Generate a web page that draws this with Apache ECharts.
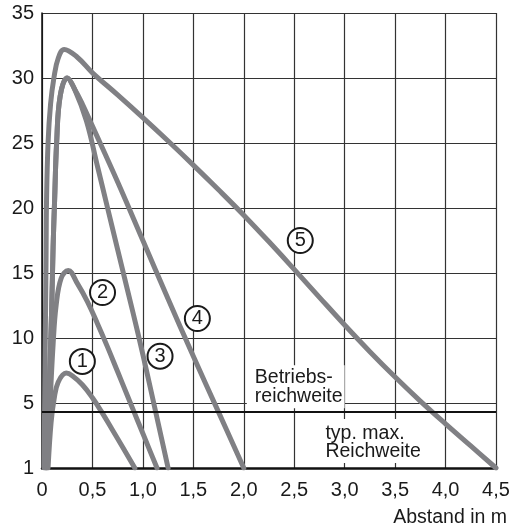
<!DOCTYPE html>
<html>
<head>
<meta charset="utf-8">
<script src="https://cdn.jsdelivr.net/npm/echarts@6/dist/echarts.min.js"></script>
<style>html,body{margin:0;padding:0;background:#fff}#c{width:514px;height:531px}</style>
</head>
<body>
<div id="c"></div>
<script>
// x: Abstand in m, y: field value (bottom tick labelled "1")
var curve1 = [[0.06,0],[0.09,3.5],[0.12,5.3],[0.16,6.6],[0.24,7.3],[0.3,7.1],[0.4,6.4],[0.5,5.4],[0.6,4.2],[0.7,2.9],[0.8,1.6],[0.92,0]];
var curve2 = [[0.05,0],[0.08,5],[0.11,9.5],[0.14,12.5],[0.19,14.6],[0.26,15.2],[0.35,14.2],[0.45,12.8],[0.55,11.1],[0.65,9.3],[0.75,7.4],[0.85,5.5],[0.95,3.6],[1.05,1.7],[1.14,0]];
var curve3 = [[0.04,0],[0.07,6],[0.095,12],[0.11,17],[0.125,20.6],[0.145,25],[0.18,28.6],[0.25,30],[0.32,29.2],[0.44,26.7],[0.55,23.2],[0.65,20.0],[0.75,16.8],[0.85,13.6],[0.95,10.4],[1.05,7.0],[1.15,3.5],[1.25,0]];
var curve4 = [[0.04,0],[0.07,6],[0.095,12],[0.11,17],[0.125,20.6],[0.145,25],[0.18,28.6],[0.25,30],[0.32,29.2],[0.4,28.0],[0.5,26.3],[0.75,22.0],[1.0,17.5],[1.25,13.0],[1.5,8.6],[1.75,4.3],[2.0,0]];
var curve5 = [[0.02,0],[0.03,8],[0.04,16],[0.045,20.6],[0.06,25],[0.085,28],[0.12,30.1],[0.16,31.5],[0.22,32.2],[0.35,31.6],[0.5,30.4],[0.75,28.7],[1.0,26.95],[1.25,25.15],[1.5,23.3],[1.75,21.4],[2.0,19.45],[2.25,17.4],[2.5,15.28],[2.75,13.13],[3.0,11.0],[3.25,8.95],[3.5,7.0],[3.75,5.15],[4.0,3.4],[4.25,1.7],[4.5,0]];
var curveNames = ['1','2','3','4','5'];
var labelPos = [[0.40,8.2],[0.60,13.5],[1.17,8.6],[1.54,11.5],[2.56,17.5]];
var betriebsLevel = 4.3;
var xTicks = ['0','0,5','1,0','1,5','2,0','2,5','3,0','3,5','4,0','4,5'];
var yTicks = ['1','5','10','15','20','25','30','35'];
var texts = [
  {text:'Betriebs-\nreichweite', at:[2.03,7.9], lh:19, pad:[3,2,2,8]},
  {text:'typ. max.\nReichweite', at:[2.75,3.77], lh:18, pad:[6,3,2,6]}
];
var axisLabelText = 'Abstand in m';

var FONT = '"Liberation Sans", Arial, sans-serif';
var curves = [curve1, curve2, curve3, curve4, curve5];
var gray = '#808084';

var series = curves.map(function (c, i) {
  return {
    type: 'line', data: c, smooth: 0.4, symbol: 'none', silent: true,
    lineStyle: {color: gray, width: 5, cap: 'round', join: 'round'},
    z: 3,
    markPoint: {
      silent: true,
      symbol: 'circle', symbolSize: 25,
      itemStyle: {color: '#fff', borderColor: '#1a1a1a', borderWidth: 2},
      label: {show: true, position: 'inside', color: '#1a1a1a', fontSize: 20, fontFamily: FONT, formatter: curveNames[i]},
      data: [{coord: labelPos[i]}]
    }
  };
});

series.push({
  type: 'line', data: [], silent: true, z: 2,
  markLine: {
    silent: true, symbol: 'none', label: {show: false},
    lineStyle: {color: '#111', width: 2, type: 'solid'},
    data: [{yAxis: betriebsLevel}]
  },
  markPoint: {
    silent: true, symbol: 'rect', symbolSize: 0,
    data: texts.map(function (t) {
      return {
        coord: t.at,
        label: {
          show: true, position: [0, 0], align: 'left', verticalAlign: 'top',
          formatter: t.text, color: '#1a1a1a', fontSize: 19.5, fontFamily: FONT,
          lineHeight: t.lh, backgroundColor: '#fff', padding: t.pad
        }
      };
    })
  }
});

var chart = echarts.init(document.getElementById('c'), null, {renderer: 'canvas'});
chart.setOption({
  animation: false,
  backgroundColor: '#fff',
  grid: {left: 42, right: 18, top: 13, bottom: 63},
  xAxis: {
    type: 'value', min: 0, max: 4.5, interval: 0.5,
    axisLine: {show: true, onZero: false, lineStyle: {color: '#111', width: 2.5}},
    axisTick: {show: false},
    axisLabel: {margin: 12, color: '#1a1a1a', fontSize: 20, fontFamily: FONT,
      formatter: function (v) { return xTicks[Math.round(v / 0.5)]; }},
    splitLine: {show: true, lineStyle: {color: '#333', width: 1.2}}
  },
  yAxis: {
    type: 'value', min: 0, max: 35, interval: 5,
    axisLine: {show: true, lineStyle: {color: '#111', width: 1.5}},
    axisTick: {show: false},
    axisLabel: {margin: 8, color: '#1a1a1a', fontSize: 20, fontFamily: FONT,
      formatter: function (v) { return yTicks[Math.round(v / 5)]; }},
    splitLine: {show: true, lineStyle: {color: '#333', width: 1.2}}
  },
  graphic: [{
    type: 'text', right: 7, bottom: 3,
    style: {text: axisLabelText, font: '19.5px ' + FONT, fill: '#1a1a1a'}
  }],
  series: series
});
</script>
</body>
</html>
